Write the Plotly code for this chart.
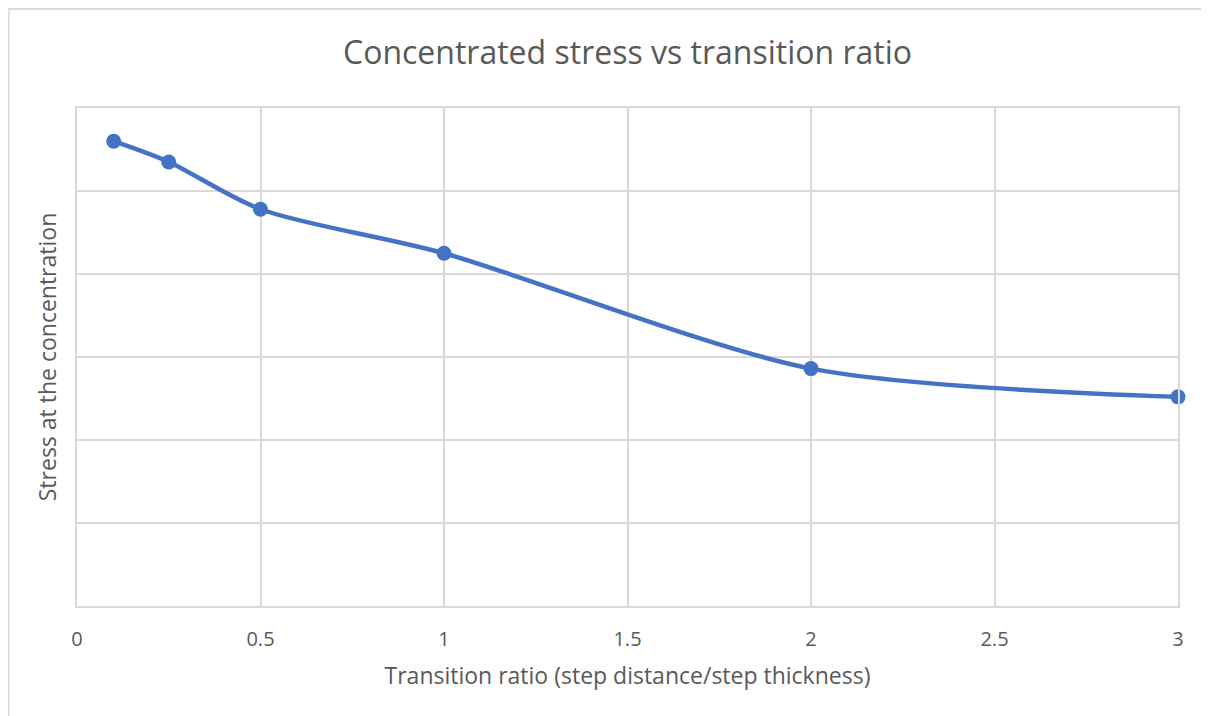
import plotly.graph_objects as go

ratio = [0.1, 0.25, 0.5, 1, 2, 3]
stress = [5.60, 5.35, 4.78, 4.25, 2.86, 2.52]
x_ticks = [0, 0.5, 1, 1.5, 2, 2.5, 3]
x_labels = ["0", "0.5", "1", "1.5", "2", "2.5", "3"]

OFF = 8  # default body margin of the page
W, H = 1209 - OFF, 716 - OFF
L, R, T, B = 77 - OFF, 1178 - OFF, 108 - OFF, 606 - OFF

fig = go.Figure()
fig.add_trace(go.Scatter(
    x=ratio, y=stress, mode="lines+markers",
    line=dict(color="#4472C4", width=4.5, shape="spline", smoothing=0.8),
    marker=dict(color="#4472C4", size=15),
    showlegend=False, cliponaxis=False,
))

pw, ph = R - L, B - T
fig.add_shape(type="rect", xref="paper", yref="paper",
              x0=(0.5 - L) / pw, x1=(1199 - L) / pw,
              y0=(B - 730) / ph, y1=(B - 1) / ph,
              line=dict(color="#D9D9D9", width=2), layer="below")

fig.update_layout(
    width=W, height=H,
    margin=dict(l=L, r=W - R, t=T, b=H - B),
    paper_bgcolor="white", plot_bgcolor="white",
    font=dict(family="Open Sans", color="#595959"),
    title=dict(text="Concentrated stress vs transition ratio",
               x=0.5, xanchor="center", xref="paper",
               y=1 - (53 - OFF) / H, yanchor="middle",
               font=dict(size=32, color="#595959")),
    xaxis=dict(range=[0, 3], tickvals=x_ticks, ticktext=x_labels,
               showgrid=True, gridcolor="#D9D9D9", gridwidth=2,
               zeroline=False, showline=True, mirror=True,
               linecolor="#D9D9D9", linewidth=2, ticks="",
               ticklabelstandoff=14,
               tickfont=dict(size=20, color="#595959"),
               title=dict(text="Transition ratio (step distance/step thickness)",
                          font=dict(size=23, color="#595959"), standoff=17)),
    yaxis=dict(range=[0, 6], dtick=1, showticklabels=False,
               showgrid=True, gridcolor="#D9D9D9", gridwidth=2,
               zeroline=False, showline=True, mirror=True,
               linecolor="#D9D9D9", linewidth=2, ticks="",
               title=dict(text="Stress at the concentration",
                          font=dict(size=23, color="#595959"), standoff=12)),
)
fig.write_html("out.html")
